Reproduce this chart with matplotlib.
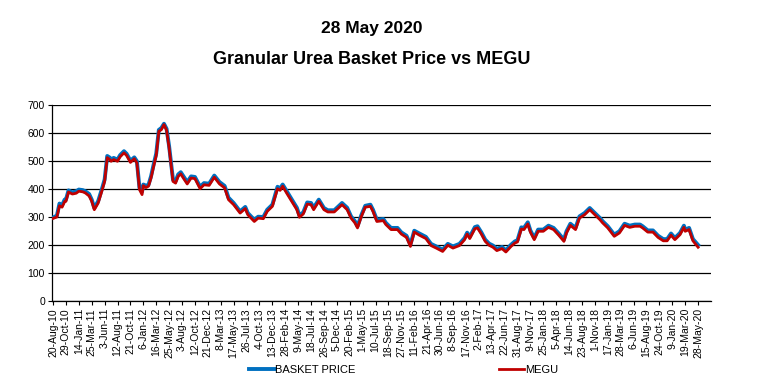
import matplotlib
matplotlib.use("Agg")
import matplotlib.pyplot as plt

plt.rcParams['font.family'] = ['Liberation Sans', 'DejaVu Sans']

title_date = "28 May 2020"
title_main = "Granular Urea Basket Price vs MEGU"

# weekly category axis: one label every 10 weeks
tick_labels = [
    "20-Aug-10", "29-Oct-10", "14-Jan-11", "25-Mar-11", "3-Jun-11", "12-Aug-11",
    "21-Oct-11", "6-Jan-12", "16-Mar-12", "25-May-12", "3-Aug-12", "12-Oct-12",
    "21-Dec-12", "8-Mar-13", "17-May-13", "26-Jul-13", "4-Oct-13", "13-Dec-13",
    "28-Feb-14", "9-May-14", "18-Jul-14", "26-Sep-14", "5-Dec-14", "20-Feb-15",
    "1-May-15", "10-Jul-15", "18-Sep-15", "27-Nov-15", "11-Feb-16", "21-Apr-16",
    "30-Jun-16", "8-Sep-16", "17-Nov-16", "2-Feb-17", "13-Apr-17", "22-Jun-17",
    "31-Aug-17", "9-Nov-17", "25-Jan-18", "5-Apr-18", "14-Jun-18", "23-Aug-18",
    "1-Nov-18", "17-Jan-19", "28-Mar-19", "6-Jun-19", "15-Aug-19", "24-Oct-19",
    "9-Jan-20", "19-Mar-20", "28-May-20",
]
tick_step = 10

# week index of each sampled observation
week_idx = [
    0, 3, 5, 7, 9, 10, 12, 15, 18, 20, 23, 25, 28, 30, 32, 35, 38, 40, 42, 44,
    45, 47, 50, 52, 55, 57, 60, 63, 65, 67, 69, 70, 72, 74, 76, 78, 80, 82, 84, 86,
    88, 90, 93, 95, 97, 99, 101, 104, 107, 110, 114, 117, 121, 125, 129, 133, 136, 140, 145, 149,
    151, 156, 159, 163, 166, 170, 174, 176, 178, 181, 185, 189, 191, 194, 197, 200, 202, 206, 210, 213,
    218, 224, 228, 231, 234, 236, 239, 242, 246, 248, 251, 256, 258, 262, 267, 270, 274, 277, 280, 284,
    289, 293, 297, 302, 306, 310, 315, 319, 321, 323, 327, 329, 332, 335, 338, 341, 344, 348, 351, 355,
    358, 360, 363, 365, 368, 370, 373, 376, 380, 384, 388, 392, 396, 398, 401, 405, 408, 412, 416, 420,
    424, 426, 430, 435, 439, 443, 447, 451, 455, 457, 461, 465, 469, 473, 476, 479, 482, 486, 489, 490,
    493, 496, 500,
]

basket_price = [
    298, 305, 348, 342, 362, 362, 395, 388, 392, 398, 396, 392, 382, 362, 332, 357, 402, 434, 518, 512,
    505, 511, 505, 521, 535, 526, 501, 513, 499, 404, 390, 416, 412, 415, 446, 488, 527, 611, 618, 633,
    615, 552, 433, 428, 452, 460, 446, 425, 445, 443, 408, 421, 419, 448, 425, 411, 369, 350, 320, 336,
    314, 290, 301, 300, 326, 344, 408, 402, 416, 393, 363, 333, 305, 317, 352, 350, 333, 362, 332, 324,
    324, 350, 333, 302, 285, 267, 307, 340, 344, 326, 290, 293, 279, 261, 261, 245, 233, 201, 251, 241,
    229, 204, 195, 183, 204, 195, 204, 225, 244, 229, 264, 267, 245, 219, 205, 198, 186, 193, 181, 201,
    213, 217, 263, 261, 281, 252, 225, 255, 255, 269, 261, 241, 219, 249, 276, 261, 302, 314, 332, 314,
    296, 285, 267, 237, 249, 276, 269, 273, 273, 267, 252, 252, 233, 221, 221, 241, 225, 243, 269, 255,
    261, 221, 200,
]

megu = [
    295, 300, 340, 335, 355, 356, 389, 382, 385, 392, 390, 386, 375, 356, 326, 350, 395, 427, 512, 505,
    499, 505, 499, 515, 529, 520, 495, 508, 493, 398, 380, 412, 405, 410, 440, 481, 520, 606, 612, 630,
    610, 546, 427, 421, 445, 454, 439, 418, 439, 437, 401, 415, 413, 442, 418, 404, 362, 344, 314, 330,
    308, 284, 296, 294, 320, 338, 401, 395, 410, 386, 356, 326, 299, 311, 346, 344, 326, 356, 326, 318,
    318, 344, 326, 296, 279, 261, 302, 335, 338, 320, 284, 287, 273, 255, 255, 239, 227, 195, 246, 235,
    223, 198, 189, 177, 199, 189, 198, 219, 239, 223, 258, 261, 239, 213, 199, 192, 180, 187, 175, 195,
    207, 211, 257, 255, 275, 246, 219, 249, 249, 263, 255, 235, 213, 243, 270, 255, 296, 308, 326, 308,
    290, 279, 261, 231, 243, 270, 263, 267, 267, 261, 246, 246, 227, 215, 215, 235, 219, 237, 263, 249,
    255, 215, 192,
]

fig = plt.figure(figsize=(7.59, 3.87), dpi=100)
ax = fig.add_axes([52 / 759, 86 / 387, (711 - 52) / 759, (301 - 105) / 387])

l1, = ax.plot(week_idx, basket_price, color="#0070C0", lw=2.8, label="BASKET PRICE", zorder=3)
l2, = ax.plot(week_idx, megu, color="#C00000", lw=2.0, label="MEGU", zorder=4)

ax.set_ylim(0, 700)
ax.set_yticks(range(0, 701, 100))
ax.set_xlim(-0.8, 510)
ax.set_xticks([i * tick_step for i in range(len(tick_labels))])
ax.set_xticklabels(tick_labels, rotation=90, fontsize=7.5)
ax.tick_params(axis="y", labelsize=7.5, length=3, width=0.8, pad=2)
ax.tick_params(axis="x", length=3, width=0.8, pad=2)
ax.grid(axis="y", color="black", lw=0.9)
ax.set_axisbelow(True)
for s in ["top", "right"]:
    ax.spines[s].set_visible(False)
for s in ["left", "bottom"]:
    ax.spines[s].set_color("black")
    ax.spines[s].set_linewidth(0.9)

fig.text(372 / 759, 1 - 29 / 387, title_date, ha="center", va="center",
         fontsize=12.5, fontweight="bold")
fig.text(372 / 759, 1 - 59 / 387, title_main, ha="center", va="center",
         fontsize=13, fontweight="bold")

fig.legend(handles=[l1, l2], loc="center left", bbox_to_anchor=(249 / 759, 1 - 370 / 387),
           ncol=2, frameon=False, fontsize=8, handlelength=2.3, handletextpad=0.05,
           columnspacing=12.9, borderaxespad=0, borderpad=0)

fig.savefig("out.png", dpi=100)
